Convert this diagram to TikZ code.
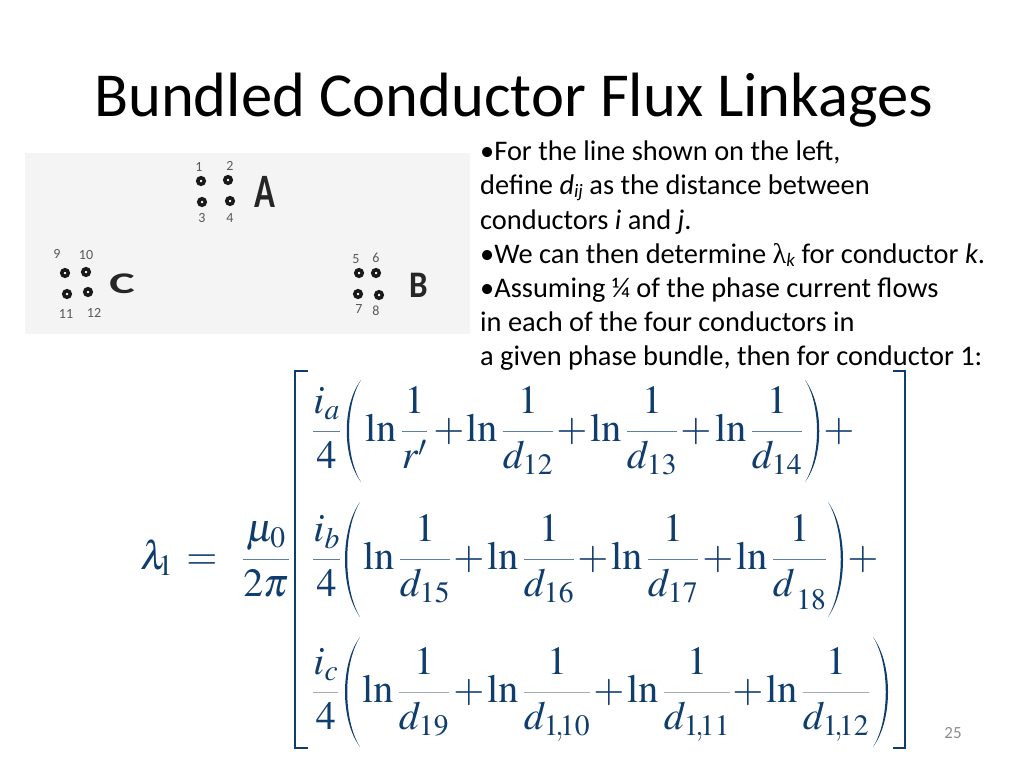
\documentclass[tikz,border=0pt]{standalone}
\usepackage{amsmath}
\usepackage{mathptmx}
\usepackage[no-math]{fontspec}
\setmainfont{Carlito}
\newfontfamily\serifgreek{Liberation Serif}
\definecolor{eqblue}{HTML}{0F3D6E}
\definecolor{eqrule}{HTML}{5F7F9F}
\definecolor{eqgray}{HTML}{A6ABB2}
\definecolor{photogray}{HTML}{F4F4F4}
\definecolor{pagegray}{HTML}{8C8C8C}
\newcommand{\frc}[3][eqrule]{{\color{#1}\genfrac{}{}{1pt}{0}{\color{eqblue}#2}{\color{eqblue}#3}}}
\newcommand{\cma}{\hspace{-3.5pt}{,}\hspace{-3.5pt}}
\tikzset{
	titletext/.style={anchor=base west, inner sep=0, font=\fontsize{62.6}{70}\selectfont},
	bodytext/.style={anchor=base west, inner sep=0, font=\fontsize{28.4}{32}\selectfont},
	term/.style={anchor=base west, inner sep=0, text=eqblue, font=\fontsize{40}{48}\selectfont},
	plus/.style={anchor=base, inner sep=0, text=eqblue, font=\fontsize{40}{48}\selectfont},
	ring/.style={shape=circle, draw=black!90, line width=3.5pt, minimum size=6.5pt, inner sep=0},
	digit/.style={inner sep=0, text=black!65, font=\fontsize{14}{15}\selectfont},
	phase/.style={inner sep=0, text=black!85, font=\bfseries\fontsize{30}{32}\selectfont},
	bracket/.style={draw=eqblue, line width=2pt},
}
\begin{document}
\begin{tikzpicture}[x=1pt, y=-1pt]
	\useasboundingbox (0,0) rectangle (1024,768);

	\node (title) at (94,116) [titletext] {Bundled Conductor Flux Linkages};

	\node (l1) at (480,160) [bodytext] {•For the line shown on the left,};
	\node (l2) at (480,194) [bodytext] {define \textit{d}\raisebox{-3pt}{\fontsize{19}{20}\selectfont\textit{ij}} as the distance between};
	\node (l3) at (480,229) [bodytext] {conductors \textit{i} and \textit{j}.};
	\node (l4) at (480,263) [bodytext] {•We can then determine {\serifgreek λ}\raisebox{-3pt}{\fontsize{19}{20}\selectfont\textit{k}} for conductor \textit{k}.};
	\node (l5) at (480,297) [bodytext] {•Assuming ¼ of the phase current flows};
	\node (l6) at (480,331) [bodytext] {in each of the four conductors in};
	\node (l7) at (480,365) [bodytext] {a given phase bundle, then for conductor 1:};

	\fill [photogray] (25,153) rectangle (470,334);
	\node (r1) at (201,181) [ring] {};
	\node (r2) at (228,180) [ring] {};
	\node (r3) at (202,202) [ring] {};
	\node (r4) at (230,201) [ring] {};
	\node (r5) at (359,273) [ring] {};
	\node (r6) at (376,273) [ring] {};
	\node (r7) at (358,294) [ring] {};
	\node (r8) at (379,295) [ring] {};
	\node (r9) at (65,273) [ring] {};
	\node (r10) at (86,272) [ring] {};
	\node (r11) at (67,294) [ring] {};
	\node (r12) at (88,292) [ring] {};
	\node (n1) at (199,167) [digit] {1};
	\node (n2) at (230,166) [digit] {2};
	\node (n3) at (202,218) [digit] {3};
	\node (n4) at (230,218) [digit] {4};
	\node (n5) at (356,259) [digit] {5};
	\node (n6) at (376,258) [digit] {6};
	\node (n7) at (359,309) [digit] {7};
	\node (n8) at (376,311) [digit] {8};
	\node (n9) at (57,254) [digit] {9};
	\node (n10) at (86,255) [digit] {10};
	\node (n11) at (66,314) [digit] {11};
	\node (n12) at (94,313) [digit] {12};
	\node (phaseA) at (265,192) [phase] {\scalebox{1.15}[1.6]{A}};
	\node (phaseB) at (419,285) [phase] {\scalebox{1.1}[1.25]{B}};
	\node (phaseC) at (122,284) [phase] {\scalebox{1.6}[1]{C}};

	\node (lam) at (140,569) [term] {$\lambda_{\hspace{-4pt}1}$};
	\node (eq) at (202,569) [plus] {$=$};
	\node (mu) at (242,569) [term] {$\frc{\mu_0}{2\pi}$};

	\draw [bracket] (308,371) -- (295,371) -- (295,748) -- (308,748);
	\draw [bracket] (893,371) -- (905,371) -- (905,748) -- (893,748);

	\node (ia) at (312,441) [term] {$\frc{i_a}{4}$};
	\node (t11) at (365,441) [term] {$\ln\frc{1}{r^{\prime}}$};
	\node (p11) at (449,441) [plus] {$+$};
	\node (t12) at (466,441) [term] {$\ln\frc{1}{d_{12}}$};
	\node (p12) at (572,441) [plus] {$+$};
	\node (t13) at (590,441) [term] {$\ln\frc{1}{d_{13}}$};
	\node (p13) at (696,441) [plus] {$+$};
	\node (t14) at (715,441) [term] {$\ln\frc{1}{d_{14}}$};
	\node (p14) at (839,441) [plus] {$+$};
	\fill [eqblue] (361,380) .. controls (342,405) and (342,457) .. (361,482) .. controls (345,457) and (345,405) .. (361,380);
	\fill [eqblue] (805,380) .. controls (824,405) and (824,457) .. (805,482) .. controls (821,457) and (821,405) .. (805,380);

	\node (ib) at (312,569) [term] {$\frc{i_b}{4}$};
	\node (t21) at (363,569) [term] {$\ln\frc{1}{d_{15}}$};
	\node (p21) at (469,569) [plus] {$+$};
	\node (t22) at (487,569) [term] {$\ln\frc{1}{d_{16}}$};
	\node (p22) at (593,569) [plus] {$+$};
	\node (t23) at (611,569) [term] {$\ln\frc{1}{d_{17}}$};
	\node (p23) at (718,569) [plus] {$+$};
	\node (t24) at (736,569) [term] {$\ln\frc{1}{d_{\,\raisebox{-7pt}{$\scriptstyle 18$}}}$};
	\node (p24) at (863,569) [plus] {$+$};
	\fill [eqblue] (360,502) .. controls (340,530) and (340,589) .. (360,617) .. controls (343,589) and (343,530) .. (360,502);
	\fill [eqblue] (828,502) .. controls (848,530) and (848,589) .. (828,617) .. controls (845,589) and (845,530) .. (828,502);

	\node (ic) at (312,702) [term] {$\frc[eqgray]{i_c}{4}$};
	\node (t31) at (362,702) [term] {$\ln\frc[eqgray]{1}{d_{19}}$};
	\node (p31) at (469,702) [plus] {$+$};
	\node (t32) at (487,702) [term] {$\ln\frc[eqgray]{1}{d_{1\cma 10}}$};
	\node (p32) at (609,702) [plus] {$+$};
	\node (t33) at (627,702) [term] {$\ln\frc[eqgray]{1}{d_{1\cma 11}}$};
	\node (p33) at (748,702) [plus] {$+$};
	\node (t34) at (766,702) [term] {$\ln\frc[eqgray]{1}{d_{1\cma 12}}$};
	\fill [eqblue] (360,637) .. controls (340,664) and (340,720) .. (360,747) .. controls (343,720) and (343,664) .. (360,637);
	\fill [eqblue] (873,637) .. controls (893,664) and (893,720) .. (873,747) .. controls (890,720) and (890,664) .. (873,637);

	\node (page) at (953,733) [inner sep=0, text=pagegray, font=\fontsize{17}{18}\selectfont] {25};
\end{tikzpicture}
\end{document}
